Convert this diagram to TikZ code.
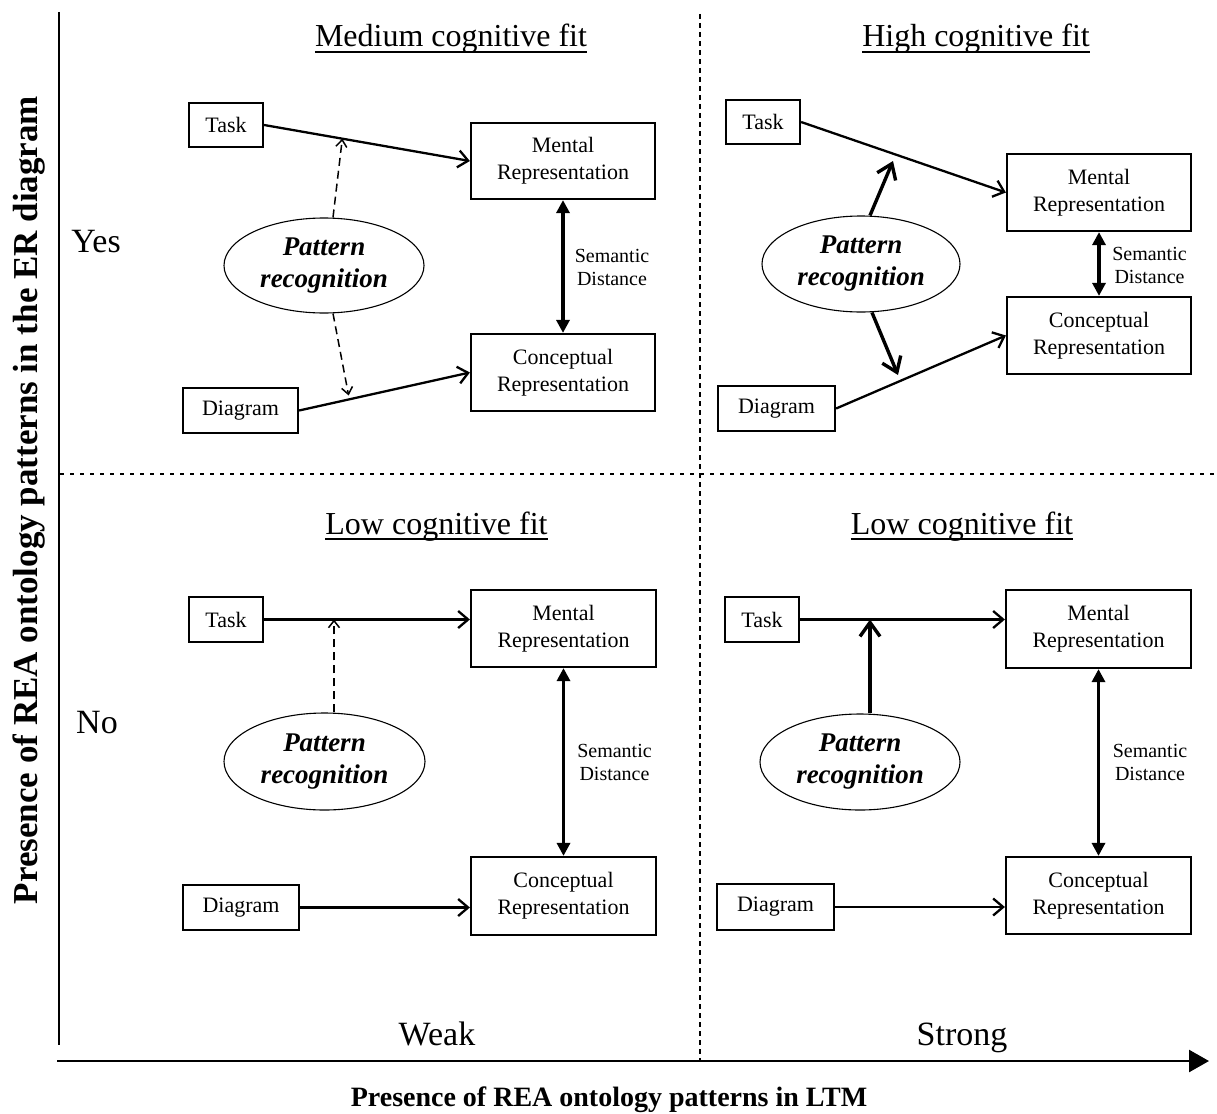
\documentclass[tikz,border=0pt]{standalone}
\usepackage{fontspec}
\setmainfont{Liberation Serif}
\usetikzlibrary{arrows.meta,shapes.geometric,calc}

\begin{document}
\begin{tikzpicture}[x=1pt,y=-1pt,
  box/.style={draw,line width=2.2pt,inner sep=0pt,align=center,
    font=\fontsize{22}{27}\selectfont},
  patt/.style={draw,ellipse,line width=1.1pt,inner sep=0pt,align=center,
    minimum width=200pt,minimum height=96pt,
    font=\fontsize{27}{32}\selectfont\bfseries\itshape},
  flow/.style={line width=2.3pt,-{Straight Barb[length=10pt,width=17pt]}},
  semdist/.style={line width=3.2pt,
    {Triangle[length=13pt,width=13pt]}-{Triangle[length=13pt,width=13pt]}},
  weaklink/.style={line width=1.5pt,dash pattern=on 8pt off 5pt,
    -{Straight Barb[length=7pt,width=11pt]}},
  stronglink/.style={line width=3.4pt,-{Straight Barb[length=14pt,width=20pt]}},
  semlabel/.style={align=center,inner sep=0pt,font=\fontsize{20}{23}\selectfont},
  fittitle/.style={inner sep=0pt,anchor=base,font=\fontsize{32}{38}\selectfont},
  level/.style={inner sep=0pt,anchor=base,font=\fontsize{34}{40}\selectfont},
  axislabel/.style={inner sep=0pt,anchor=base,font=\fontsize{28}{32}\selectfont\bfseries},
  uline/.style={line width=2pt},
  sep/.style={line width=2.6pt}
]
\useasboundingbox (0,0) rectangle (1217,1113);

% ---------- axes and quadrant separators ----------
\coordinate (yTop) at (59,12);
\coordinate (yBot) at (59,1045);
\coordinate (xL) at (57,1061);
\coordinate (xR) at (1209,1061);
\draw[line width=2.4pt] (yTop) -- (yBot);
\draw[line width=2.6pt,-{Triangle[length=20pt,width=22pt]}] (xL) -- (xR);
\coordinate (vTop) at (700,14);
\coordinate (vBot) at (700,1062);
\coordinate (hL) at (60,474);
\coordinate (hR) at (1217,474);
\draw[sep,dash pattern=on 5pt off 4pt] (vTop) -- (vBot);
\draw[sep,dash pattern=on 4pt off 6pt] (hL) -- (hR);

\node[axislabel,rotate=90,font=\fontsize{35}{40}\selectfont\bfseries] (ylab) at (37,500)
  {Presence of REA ontology patterns in the ER diagram};
\node[axislabel] (xlab) at (609,1106) {Presence of REA ontology patterns in LTM};

\node[level] (yes) at (96,252) {Yes};
\node[level] (no) at (97,733) {No};
\node[level] (weak) at (437,1045) {Weak};
\node[level] (strong) at (962,1045) {Strong};

% ---------- quadrant titles ----------
\node[fittitle] (tA) at (451,47) {Medium cognitive fit};
\node[fittitle] (tB) at (976,47) {High cognitive fit};
\node[fittitle] (tC) at (436.5,534) {Low cognitive fit};
\node[fittitle] (tD) at (962,534) {Low cognitive fit};
\foreach \t in {tA,tB,tC,tD}
  \draw[uline] ($(\t.base west)+(0,5)$) -- ($(\t.base east)+(0,5)$);

% ---------- medium cognitive fit ----------
\node[box,minimum width=74pt,minimum height=44pt] (taskA) at (226,125) {Task};
\node[box,minimum width=184pt,minimum height=76pt] (mentA) at (563,161) {Mental\\Representation};
\node[box,minimum width=184pt,minimum height=77pt] (concA) at (563,372.5) {Conceptual\\Representation};
\node[box,minimum width=115pt,minimum height=45pt] (diagA) at (240.5,410.5) {Diagram};
\node[patt,minimum width=200pt,minimum height=95pt] (pattA) at (324,265.5) {Pattern\\recognition};
\draw[flow] (taskA.east) -- (mentA.west);
\draw[flow] (diagA.east) -- (concA.west);
\draw[semdist] (mentA.south) -- (concA.north);
\node[semlabel] (semA) at (612,267) {Semantic\\Distance};
\coordinate (pAu) at ($(pattA.north)+(9,0)$);
\coordinate (pAd) at ($(pattA.south)+(9,0)$);
\coordinate (hitAu) at ($(taskA.east)!0.38!(mentA.west)$);
\coordinate (hitAd) at ($(diagA.east)!0.29!(concA.west)+(0,-4)$);
\draw[weaklink] (pAu) -- (hitAu);
\draw[weaklink] (pAd) -- (hitAd);

% ---------- high cognitive fit ----------
\node[box,minimum width=74pt,minimum height=44pt] (taskB) at (763,122) {Task};
\node[box,minimum width=184pt,minimum height=77pt] (mentB) at (1099,192.5) {Mental\\Representation};
\node[box,minimum width=184pt,minimum height=77pt] (concB) at (1099,335.5) {Conceptual\\Representation};
\node[box,minimum width=117pt,minimum height=45pt] (diagB) at (776.5,408.5) {Diagram};
\node[patt,minimum width=198pt,minimum height=96pt] (pattB) at (861,264) {Pattern\\recognition};
\draw[flow] (taskB.east) -- (mentB.west);
\draw[flow] (diagB.east) -- (concB.west);
\draw[semdist] (mentB.south) -- (concB.north);
\node[semlabel] (semB) at (1149.5,265) {Semantic\\Distance};
\coordinate (pBu) at ($(pattB.north)+(9,0)$);
\coordinate (pBd) at ($(pattB.south)+(11,0)$);
\coordinate (hitBu) at (893,161);
\coordinate (hitBd) at (898,375);
\draw[stronglink] (pBu) -- (hitBu);
\draw[stronglink] (pBd) -- (hitBd);

% ---------- low cognitive fit (weak) ----------
\node[box,minimum width=74pt,minimum height=45pt] (taskC) at (226,619.5) {Task};
\node[box,minimum width=185pt,minimum height=77pt] (mentC) at (563.5,628.5) {Mental\\Representation};
\node[box,minimum width=185pt,minimum height=78pt] (concC) at (563.5,896) {Conceptual\\Representation};
\node[box,minimum width=116pt,minimum height=45pt] (diagC) at (241,907.5) {Diagram};
\node[patt,minimum width=201pt,minimum height=97pt] (pattC) at (324.5,761.5) {Pattern\\recognition};
\draw[flow] (taskC.east) -- (taskC.east -| mentC.west);
\draw[flow] (diagC.east) -- (diagC.east -| concC.west);
\draw[semdist] (mentC.south) -- (concC.north);
\node[semlabel] (semC) at (614.5,762.5) {Semantic\\Distance};
\coordinate (pCu) at ($(pattC.north)+(9.5,0)$);
\draw[weaklink] (pCu) -- (pCu |- taskC.east);

% ---------- low cognitive fit (strong) ----------
\node[box,minimum width=74pt,minimum height=45pt] (taskD) at (762,619.5) {Task};
\node[box,minimum width=185pt,minimum height=78pt] (mentD) at (1098.5,629) {Mental\\Representation};
\node[box,minimum width=185pt,minimum height=77pt] (concD) at (1098.5,895.5) {Conceptual\\Representation};
\node[box,minimum width=117pt,minimum height=46pt] (diagD) at (775.5,907) {Diagram};
\node[patt,minimum width=200pt,minimum height=96pt] (pattD) at (860,762) {Pattern\\recognition};
\draw[flow] (taskD.east) -- (taskD.east -| mentD.west);
\draw[flow] (diagD.east) -- (diagD.east -| concD.west);
\draw[semdist] (mentD.south) -- (concD.north);
\node[semlabel] (semD) at (1150,762.5) {Semantic\\Distance};
\coordinate (pDu) at ($(pattD.north)+(10,0)$);
\draw[stronglink] (pDu) -- (pDu |- taskD.east);

\end{tikzpicture}
\end{document}
